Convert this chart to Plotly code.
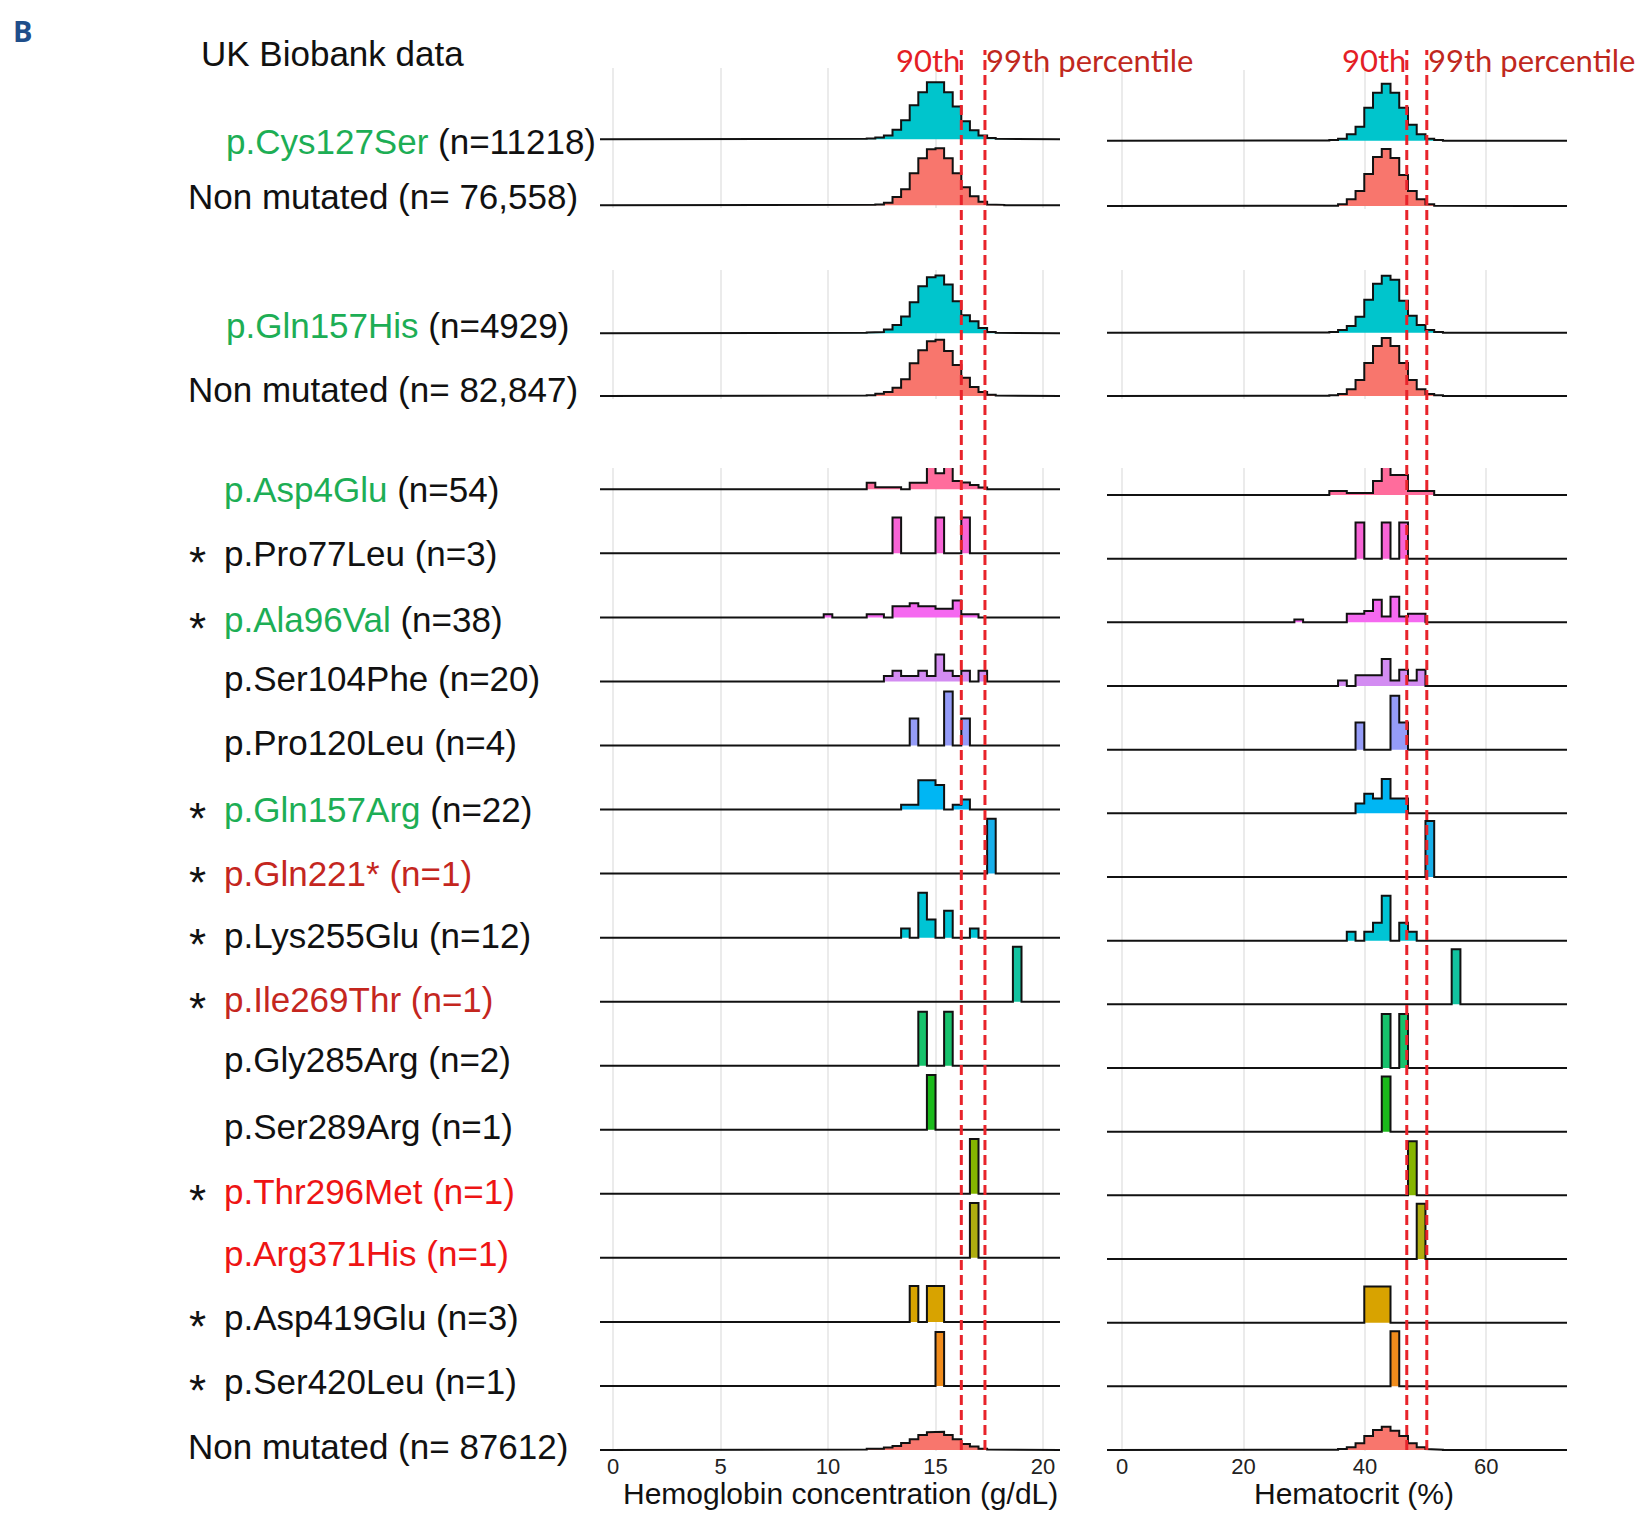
import plotly.graph_objects as go

# ---------------- data ----------------
mutation_names = ["p.Cys127Ser", "Non mutated", "p.Gln157His", "Non mutated",
                  "p.Asp4Glu", "p.Pro77Leu", "p.Ala96Val", "p.Ser104Phe", "p.Pro120Leu",
                  "p.Gln157Arg", "p.Gln221*", "p.Lys255Glu", "p.Ile269Thr", "p.Gly285Arg",
                  "p.Ser289Arg", "p.Thr296Met", "p.Arg371His", "p.Asp419Glu", "p.Ser420Leu",
                  "Non mutated"]
sample_sizes = ["(n=11218)", "(n= 76,558)", "(n=4929)", "(n= 82,847)",
                "(n=54)", "(n=3)", "(n=38)", "(n=20)", "(n=4)", "(n=22)", "(n=1)", "(n=12)",
                "(n=1)", "(n=2)", "(n=1)", "(n=1)", "(n=1)", "(n=3)", "(n=1)", "(n= 87612)"]
label_category = ["benign", "plain", "benign", "plain",
                  "benign", "plain", "benign", "plain", "plain", "benign", "pathogenic",
                  "plain", "pathogenic", "plain", "plain", "pathogenic2", "pathogenic2",
                  "plain", "plain", "plain"]
significant = [False, False, False, False,
               False, True, True, False, False, True, True, True, True, False, False,
               True, False, True, True, False]
row_group = [0, 0, 1, 1] + [2] * 16

HB_BIN = 0.4     # g/dL
HCT_BIN = 1.44   # %

hb_first_edge = [11.4, 11.4, 11.4, 11.4, 11.8, 13.0, 9.8, 12.6, 13.8, 13.4, 17.4, 13.4,
                 18.6, 14.2, 14.6, 16.6, 16.6, 13.8, 15.0, 11.4]
hb_density = [
    [0.01, 0.02, 0.04, 0.09, 0.22, 0.44, 0.79, 1.09, 1.32, 1.32, 1.09, 0.76, 0.42, 0.21, 0.09, 0.03, 0.01],
    [0.01, 0.01, 0.02, 0.06, 0.19, 0.37, 0.74, 1.09, 1.30, 1.32, 1.09, 0.74, 0.42, 0.21, 0.08, 0.02, 0.01],
    [0.01, 0.02, 0.03, 0.09, 0.19, 0.39, 0.72, 1.09, 1.30, 1.34, 1.13, 0.74, 0.42, 0.28, 0.12, 0.03, 0.01],
    [0.01, 0.02, 0.05, 0.09, 0.19, 0.39, 0.76, 1.06, 1.27, 1.30, 1.04, 0.72, 0.42, 0.21, 0.09, 0.03, 0.01],
    [0.15, 0.05, 0.05, 0.05, 0.0, 0.15, 0.15, 0.53, 0.37, 0.53, 0.19, 0.16, 0.10, 0.04],
    [0.83, 0, 0, 0, 0, 0.83, 0, 0, 0.83],
    [0.07, 0, 0, 0, 0, 0.07, 0.07, 0, 0.26, 0.26, 0.33, 0.26, 0.26, 0.20, 0.20, 0.39, 0.07, 0.07],
    [0.125, 0.25, 0.125, 0.125, 0.25, 0.125, 0.625, 0.25, 0.125, 0.25, 0, 0.25],
    [0.625, 0, 0, 0, 1.25, 0, 0.625],
    [0.11, 0.11, 0.68, 0.68, 0.57, 0, 0.11, 0.23],
    [1.27],
    [0.21, 0, 1.04, 0.42, 0, 0.625, 0, 0, 0.21],
    [1.27],
    [1.25, 0, 0, 1.25],
    [1.27],
    [1.27],
    [1.27],
    [0.83, 0, 0.83, 0.83],
    [1.25],
    [0.01, 0.03, 0.03, 0.06, 0.09, 0.16, 0.25, 0.35, 0.41, 0.42, 0.35, 0.25, 0.14, 0.08, 0.03, 0.01],
]

hct_first_edge = [32.70, 32.70, 32.70, 32.70, 34.14, 38.46, 28.38, 35.58, 38.46, 38.46, 49.98,
                  37.02, 54.30, 42.78, 42.78, 47.10, 48.54, 39.90, 44.22, 34.14]
hct_density = [
    [0.002, 0.005, 0.013, 0.041, 0.090, 0.212, 0.309, 0.367, 0.309, 0.212, 0.103, 0.041, 0.013, 0.005],
    [0.001, 0.002, 0.011, 0.043, 0.096, 0.206, 0.315, 0.367, 0.309, 0.199, 0.096, 0.043, 0.011, 0.002],
    [0.002, 0.005, 0.017, 0.043, 0.103, 0.212, 0.315, 0.367, 0.341, 0.206, 0.109, 0.050, 0.017, 0.005],
    [0.002, 0.005, 0.013, 0.043, 0.103, 0.212, 0.322, 0.373, 0.322, 0.212, 0.103, 0.043, 0.013, 0.005],
    [0.026, 0.026, 0.013, 0.013, 0.013, 0.090, 0.180, 0.129, 0.129, 0.026, 0.026, 0.026],
    [0.232, 0, 0, 0.232, 0, 0.232],
    [0.018, 0, 0, 0, 0, 0, 0.055, 0.055, 0.073, 0.146, 0.037, 0.164, 0.037, 0.055, 0.055],
    [0.035, 0, 0.069, 0.069, 0.069, 0.174, 0.035, 0.104, 0.035, 0.104],
    [0.174, 0, 0, 0, 0.347, 0.174],
    [0.063, 0.126, 0.095, 0.221, 0.095, 0.095],
    [0.36],
    [0.058, 0, 0.058, 0.116, 0.289, 0, 0.116, 0.058],
    [0.355],
    [0.347, 0, 0.347],
    [0.355],
    [0.347],
    [0.355],
    [0.232, 0.232, 0.232],
    [0.355],
    [0.002, 0.006, 0.017, 0.043, 0.090, 0.129, 0.150, 0.124, 0.090, 0.043, 0.017, 0.006, 0.002],
]

hb_percentiles = [16.2, 17.3]
hct_percentiles = [46.9, 50.2]
hb_ticks = [0, 5, 10, 15, 20]
hct_ticks = [0, 20, 40, 60]

# ---------------- styles / page geometry ----------------
PAGE_W, PAGE_H = 1649, 1520
OFF = 8                      # default body margin of the html page
W, H = PAGE_W - 2 * OFF, PAGE_H - 2 * OFF


def px_x(px):
    return (px - OFF) / W


def px_y(py):
    return 1 - (py - OFF) / H


FONT = "Liberation Sans, Arial, sans-serif"
fill_colors = ["#00C5CC", "#F8766D", "#00C5CC", "#F8766D",
               "#FF6C9C", "#F864D6", "#F569F0", "#D38CF2", "#959CF8", "#00B6F3",
               "#18AFEA", "#00C4D4", "#12C3A0", "#17C26C", "#1BBA1B", "#85B500",
               "#AFAD10", "#D8A300", "#F08C1C", "#F8766D"]
GREEN = "#1DAE55"
DARK_RED = "#C4261E"
BRIGHT_RED = "#EE1414"
label_dy_px = [-2, 9, 8, 6, 0, 0, -2, 3, 3, 0, 0, 2, 2, 6, 3, 2, 4, 4, 4, 4]
label_x_px = [224, 186, 224, 186] + [222] * 15 + [186]

panels = [
    dict(x_px=(600, 1060), xrange=(-0.605, 20.79), ticks=hb_ticks, first_axis=1,
         px_per_density=43.2, bw=HB_BIN, edges=hb_first_edge, dens=hb_density,
         groups=[(68, 139.3, 205.3, 208), (270, 333.3, 396, 399), (468, 489.3, 1450, 1451)]),
    dict(x_px=(1107, 1567), xrange=(-2.49, 73.3), ticks=hct_ticks, first_axis=4,
         px_per_density=155.5, bw=HCT_BIN, edges=hct_first_edge, dens=hct_density,
         groups=[(70, 140.7, 206, 209), (270, 332.7, 396, 399), (468, 495, 1450, 1451)]),
]

fig = go.Figure()
layout_axes = {}
annotations = []
group_info = {}


def axname(prefix, i):
    return prefix if i == 1 else f"{prefix}{i}"


for p_i, pan in enumerate(panels):
    for g in range(3):
        ai = pan["first_axis"] + g
        rows = [r for r in range(len(row_group)) if row_group[r] == g]
        n = len(rows)
        top, first, last, bottom = pan["groups"][g]
        spacing = (last - first) / (n - 1)
        y_top = (n - 1) + (first - top) / spacing
        y_bot = -(bottom - last) / spacing
        group_info[(p_i, g)] = (ai, spacing, rows)
        is_bottom = (g == 2)
        layout_axes[axname("xaxis", ai)] = dict(
            domain=[px_x(pan["x_px"][0]), px_x(pan["x_px"][1])],
            range=list(pan["xrange"]), anchor=axname("y", ai),
            showgrid=True, gridcolor="#EBEBEB", gridwidth=1.5,
            tickvals=pan["ticks"], showticklabels=is_bottom, ticks="",
            zeroline=False, showline=False,
            tickfont=dict(family=FONT, size=22, color="#222222"),
            ticklabelstandoff=0,
        )
        layout_axes[axname("yaxis", ai)] = dict(
            domain=[px_y(bottom), px_y(top)], range=[y_bot, y_top],
            anchor=axname("x", ai), showgrid=False, showticklabels=False,
            zeroline=False, showline=False,
        )
        scale = pan["px_per_density"] / spacing
        xmin, xmax = pan["xrange"]
        for j, r in enumerate(rows):
            base = n - 1 - j
            xs = [xmin, pan["edges"][r]]
            ys = [base, base]
            for k, v in enumerate(pan["dens"][r]):
                x0 = pan["edges"][r] + k * pan["bw"]
                xs += [x0, x0 + pan["bw"]]
                ys += [base + v * scale, base + v * scale]
            xs += [pan["edges"][r] + len(pan["dens"][r]) * pan["bw"], xmax]
            ys += [base, base]
            fig.add_trace(go.Scatter(
                x=xs, y=ys, mode="lines", fill="toself", fillcolor=fill_colors[r],
                line=dict(color="#111111", width=2), hoverinfo="skip", showlegend=False,
                xaxis=axname("x", ai), yaxis=axname("y", ai)))

# ---------------- row labels ----------------
for g in range(3):
    ai, spacing, rows = group_info[(0, g)]
    n = len(rows)
    for j, r in enumerate(rows):
        base = n - 1 - j
        cat = label_category[r]
        name, ns = mutation_names[r], sample_sizes[r]
        if cat == "benign":
            txt = f"<span style='color:{GREEN}'>{name}</span> {ns}"
        elif cat == "pathogenic":
            txt = f"<span style='color:{DARK_RED}'>{name} {ns}</span>"
        elif cat == "pathogenic2":
            txt = f"<span style='color:{BRIGHT_RED}'>{name} {ns}</span>"
        else:
            txt = f"{name} {ns}"
        yv = base + label_dy_px[r] / spacing
        annotations.append(dict(
            text=txt, xref="paper", yref=axname("y", ai), x=px_x(label_x_px[r]), y=yv,
            xanchor="left", yanchor="middle", showarrow=False,
            font=dict(family=FONT, size=35, color="#111111")))
        if significant[r]:
            annotations.append(dict(
                text="*", xref="paper", yref=axname("y", ai), x=px_x(197.5), y=yv,
                xanchor="center", yanchor="middle", showarrow=False, yshift=-9,
                font=dict(family=FONT, size=44, color="#111111")))

# ---------------- titles / percentile annotations ----------------
annotations.append(dict(text="<b>B</b>", xref="paper", yref="paper", x=px_x(11), y=px_y(30),
                        xanchor="left", yanchor="middle", showarrow=False,
                        font=dict(family="Open Sans, sans-serif", size=29, color="#1F4E8A")))
annotations.append(dict(text="UK Biobank data", xref="paper", yref="paper", x=px_x(199), y=px_y(53),
                        xanchor="left", yanchor="middle", showarrow=False,
                        font=dict(family=FONT, size=35, color="#111111")))
annotations.append(dict(text="Hemoglobin concentration (g/dL)", xref="paper", yref="paper",
                        x=px_x(841), y=0, xanchor="center", yanchor="bottom",
                        showarrow=False, font=dict(family=FONT, size=30, color="#111111")))
annotations.append(dict(text="Hematocrit (%)", xref="paper", yref="paper",
                        x=px_x(1354), y=0, xanchor="center", yanchor="bottom",
                        showarrow=False, font=dict(family=FONT, size=30, color="#111111")))

shapes = []
for xref, pcts in (("x3", hb_percentiles), ("x6", hct_percentiles)):
    for v in pcts:
        shapes.append(dict(type="line", xref=xref, yref="paper", x0=v, x1=v,
                           y0=px_y(1450), y1=px_y(50),
                           line=dict(color="#E8232A", width=3, dash="10px,5px")))
    annotations.append(dict(text="90th", xref=xref, yref="paper", x=pcts[0], y=px_y(60),
                            xanchor="right", yanchor="middle", showarrow=False, xshift=1,
                            font=dict(family="Lato, sans-serif", size=31, color="#E41E26")))
    annotations.append(dict(text="99th percentile", xref=xref, yref="paper", x=pcts[1], y=px_y(60),
                            xanchor="left", yanchor="middle", showarrow=False, xshift=-1,
                            font=dict(family="Lato, sans-serif", size=31, color="#C0281E")))

fig.update_layout(
    width=W, height=H, margin=dict(l=0, r=0, t=0, b=0),
    paper_bgcolor="white", plot_bgcolor="white",
    annotations=annotations, shapes=shapes, showlegend=False,
    **layout_axes,
)
fig.write_html("out.html")
